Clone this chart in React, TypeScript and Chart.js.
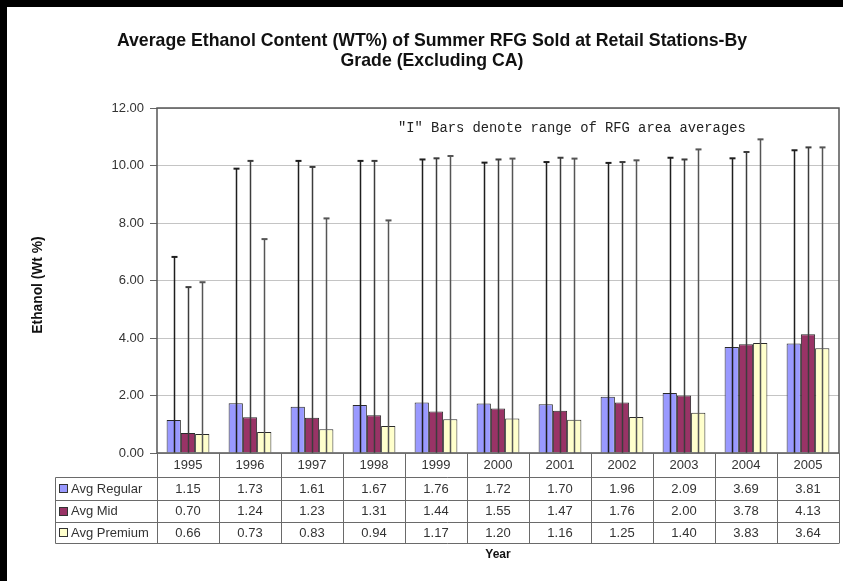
import React, { useEffect, useRef } from 'react';
import { Chart, registerables } from 'chart.js';

Chart.register(...registerables);

const years = ['1995', '1996', '1997', '1998', '1999', '2000', '2001', '2002', '2003', '2004', '2005'];
const avgRegular = [1.15, 1.73, 1.61, 1.67, 1.76, 1.72, 1.7, 1.96, 2.09, 3.69, 3.81];
const avgMid = [0.7, 1.24, 1.23, 1.31, 1.44, 1.55, 1.47, 1.76, 2.0, 3.78, 4.13];
const avgPremium = [0.66, 0.73, 0.83, 0.94, 1.17, 1.2, 1.16, 1.25, 1.4, 3.83, 3.64];
// "I" bars: range of RFG area averages
const rangeHighRegular = [6.82, 9.89, 10.16, 10.16, 10.21, 10.1, 10.12, 10.09, 10.27, 10.25, 10.53];
const rangeHighMid = [5.77, 10.16, 9.95, 10.16, 10.25, 10.21, 10.27, 10.12, 10.21, 10.47, 10.63];
const rangeHighPremium = [5.94, 7.44, 8.16, 8.09, 10.33, 10.24, 10.24, 10.18, 10.56, 10.91, 10.63];
const rangeLowRegular = [0, 0, 0, 0, 0, 0, 0, 0, 0, 0, 0];
const rangeLowMid = [0, 0, 0, 0, 0, 0, 0, 0, 0, 0, 0];
const rangeLowPremium = [0, 0, 0, 0, 0, 0, 0, 0, 0, 0, 0];
const yTicks = [0, 2, 4, 6, 8, 10, 12];
const seriesNames = ['Avg Regular', 'Avg Mid', 'Avg Premium'];
const titleLines = ['Average Ethanol Content (WT%) of Summer RFG Sold at Retail Stations-By', 'Grade (Excluding CA)'];
const annotation = '"I" Bars denote range of RFG area averages';
const yTitle = 'Ethanol (Wt %)';
const xTitle = 'Year';

const SANS = '"Liberation Sans", Arial, sans-serif';
const MONO = '"Liberation Mono", "Courier New", monospace';
const barColors = ['#9999FF', '#993366', '#FFFFCC'];
const errColors = ['#1e1e1e', '#3c3c3c', '#555555'];

const highs = [rangeHighRegular, rangeHighMid, rangeHighPremium];
const lows = [rangeLowRegular, rangeLowMid, rangeLowPremium];
const values = [avgRegular, avgMid, avgPremium];

const decorPlugin = {
  id: 'decor',
  beforeDraw(chart: any) {
    const ctx = chart.ctx;
    ctx.save();
    ctx.fillStyle = '#ffffff';
    ctx.fillRect(0, 0, chart.width, chart.height);
    ctx.fillStyle = '#000000';
    ctx.fillRect(0, 0, chart.width, 7);
    ctx.fillRect(0, 0, 7, chart.height);
    ctx.restore();
  },
  afterDatasetsDraw(chart: any) {
    const ctx = chart.ctx;
    const y = chart.scales.y;
    ctx.save();
    for (let d = 0; d < 3; d++) {
      const meta = chart.getDatasetMeta(d);
      ctx.strokeStyle = errColors[d];
      meta.data.forEach((bar: any, i: number) => {
        const x = Math.round(bar.x) + 0.5;
        const yt = y.getPixelForValue(highs[d][i]);
        const yb = y.getPixelForValue(lows[d][i]);
        ctx.lineWidth = 1.5;
        ctx.beginPath();
        ctx.moveTo(x, yb);
        ctx.lineTo(x, yt);
        ctx.stroke();
        ctx.lineWidth = 2;
        ctx.beginPath();
        ctx.moveTo(x - 3, yt);
        ctx.lineTo(x + 3, yt);
        ctx.stroke();
      });
    }
    const a = chart.chartArea;
    ctx.strokeStyle = '#555555';
    ctx.lineWidth = 1.5;
    ctx.strokeRect(a.left, a.top, a.right - a.left, a.bottom - a.top);
    ctx.restore();
  },
  afterDraw(chart: any) {
    const ctx = chart.ctx;
    const a = chart.chartArea;
    const xs = chart.scales.x;
    ctx.save();
    // Title
    ctx.fillStyle = '#111111';
    ctx.font = `bold 17.7px ${SANS}`;
    ctx.textAlign = 'center';
    ctx.textBaseline = 'middle';
    ctx.fillText(titleLines[0], 432, 41);
    ctx.fillText(titleLines[1], 432, 61);
    // annotation
    ctx.font = `13.8px ${MONO}`;
    ctx.textAlign = 'left';
    ctx.fillStyle = '#222222';
    ctx.fillText(annotation, 398, 128);
    // Y title
    ctx.save();
    ctx.translate(38, 285);
    ctx.rotate(-Math.PI / 2);
    ctx.font = `bold 13.8px ${SANS}`;
    ctx.textAlign = 'center';
    ctx.fillStyle = '#111111';
    ctx.fillText(yTitle, 0, 0);
    ctx.restore();
    // Data table
    const colW = (a.right - a.left) / years.length;
    const tableLeft = 55.5;
    const rows = [a.bottom, a.bottom + 23.5, a.bottom + 46.5, a.bottom + 68.5, a.bottom + 90];
    ctx.strokeStyle = '#6a6a6a';
    ctx.lineWidth = 1;
    for (let r = 1; r < rows.length; r++) {
      const yy = Math.round(rows[r]) + 0.5;
      ctx.beginPath();
      ctx.moveTo(tableLeft, yy);
      ctx.lineTo(a.right, yy);
      ctx.stroke();
    }
    ctx.beginPath();
    ctx.moveTo(tableLeft, Math.round(rows[1]) + 0.5);
    ctx.lineTo(tableLeft, Math.round(rows[4]) + 0.5);
    ctx.stroke();
    for (let k = 0; k <= years.length; k++) {
      const xx = Math.round(a.left + k * colW) + 0.5;
      ctx.beginPath();
      ctx.moveTo(xx, a.bottom);
      ctx.lineTo(xx, Math.round(rows[4]) + 0.5);
      ctx.stroke();
    }
    ctx.font = `13px ${SANS}`;
    ctx.fillStyle = '#333333';
    ctx.textAlign = 'center';
    ctx.textBaseline = 'middle';
    years.forEach((yr, i) => {
      const cx = xs.getPixelForValue(i);
      ctx.fillText(yr, cx, (rows[0] + rows[1]) / 2 + 1);
      for (let s = 0; s < 3; s++) {
        ctx.fillText(values[s][i].toFixed(2), cx, (rows[s + 1] + rows[s + 2]) / 2 + 1);
      }
    });
    ctx.textAlign = 'left';
    for (let s = 0; s < 3; s++) {
      const cy = (rows[s + 1] + rows[s + 2]) / 2;
      ctx.fillStyle = barColors[s];
      ctx.fillRect(59.5, Math.round(cy - 4) + 0.5, 8, 8);
      ctx.strokeStyle = '#333333';
      ctx.strokeRect(59.5, Math.round(cy - 4) + 0.5, 8, 8);
      ctx.fillStyle = '#333333';
      ctx.fillText(seriesNames[s], 71, cy + 1);
    }
    // X title
    ctx.font = `bold 12px ${SANS}`;
    ctx.textAlign = 'center';
    ctx.fillStyle = '#111111';
    ctx.fillText(xTitle, (a.left + a.right) / 2, 555);
    ctx.restore();
  },
};

export default function App() {
  const ref = useRef<HTMLCanvasElement | null>(null);
  useEffect(() => {
    if (!ref.current) return;
    const chart = new Chart(ref.current, {
      type: 'bar',
      data: {
        labels: years,
        datasets: values.map((v, i) => ({
          label: seriesNames[i],
          data: v,
          backgroundColor: barColors[i],
          borderColor: '#2a2a2a',
          borderWidth: 1,
          categoryPercentage: 0.69,
          barPercentage: 1.0,
        })),
      },
      options: {
        responsive: false,
        animation: false,
        devicePixelRatio: 1,
        layout: { padding: { left: 0, top: 108, right: 4, bottom: 128 } },
        plugins: { legend: { display: false }, tooltip: { enabled: false }, title: { display: false } },
        scales: {
          x: { display: false },
          y: {
            min: 0,
            max: 12,
            afterBuildTicks: (s: any) => {
              s.ticks = yTicks.map((v) => ({ value: v }));
            },
            afterFit: (s: any) => {
              s.width = 157;
            },
            ticks: {
              callback: (v: any) => Number(v).toFixed(2),
              font: { family: SANS, size: 13 },
              color: '#333333',
              padding: 6,
            },
            grid: { color: '#c4c4c4', tickColor: '#666666', tickLength: 7, lineWidth: 1 },
            border: { display: false },
          },
        },
      },
      plugins: [decorPlugin],
    } as any);
    return () => chart.destroy();
  }, []);
  return (
    <div style={{ position: 'absolute', left: 0, top: 0, width: 843, height: 581, background: '#fff' }}>
      <canvas ref={ref} width={843} height={581} style={{ display: 'block' }} />
    </div>
  );
}
